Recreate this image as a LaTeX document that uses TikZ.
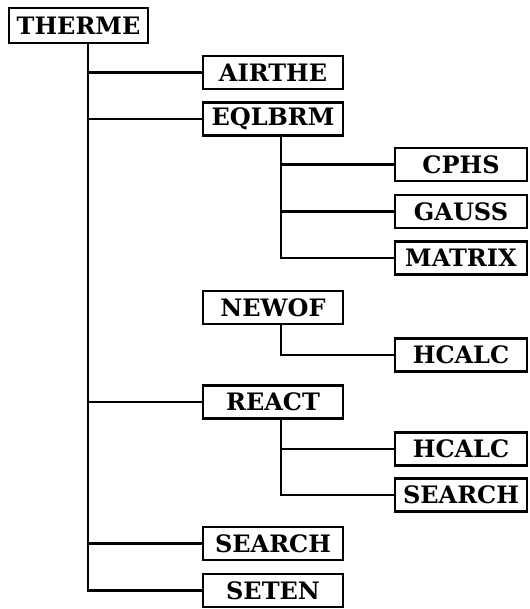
\documentclass[tikz,border=0pt]{standalone}
\usepackage{fontspec}
\setmainfont{DejaVu Serif}
\begin{document}
\begin{tikzpicture}[x=1pt,y=-1pt,
  box/.style={draw, line width=2.2pt, minimum height=33pt, inner sep=0pt,
    font=\fontsize{24}{24}\selectfont\bfseries},
  midbox/.style={box, minimum width=140pt},
  rbox/.style={box, minimum width=132pt},
  link/.style={line width=2.5pt}]
\useasboundingbox (0,0) rectangle (529,609);
\node[box, minimum width=139pt, minimum height=35pt] (therme) at (78.5,25.5) {THERME};
\node[midbox] (airthe) at (273,72.5) {AIRTHE};
\node[midbox] (eqlbrm) at (273,119) {EQLBRM};
\node[rbox] (cphs) at (461,164.5) {CPHS};
\node[rbox] (gauss) at (461,211.5) {GAUSS};
\node[rbox] (nmatrix) at (461,258) {MATRIX};
\node[midbox] (newof) at (273,307.5) {NEWOF};
\node[rbox] (hcalcA) at (461,355) {HCALC};
\node[midbox] (react) at (273,402) {REACT};
\node[rbox] (hcalcB) at (461,449) {HCALC};
\node[rbox] (searchB) at (461,495) {SEARCH};
\node[midbox] (search) at (273,543.5) {SEARCH};
\node[midbox] (seten) at (273,590.5) {SETEN};
\coordinate (t) at (88,0);
\coordinate (s) at (281,0);
% main trunk
\draw[link] (therme.south -| t) |- (seten.west);
\draw[link] (t |- airthe.west) -- (airthe.west);
\draw[link] (t |- eqlbrm.west) -- (eqlbrm.west);
\draw[link] (t |- react.west) -- (react.west);
\draw[link] (t |- search.west) -- (search.west);
% EQLBRM children
\draw[link] (eqlbrm.south -| s) |- (nmatrix.west);
\draw[link] (s |- cphs.west) -- (cphs.west);
\draw[link] (s |- gauss.west) -- (gauss.west);
% NEWOF child
\draw[link] (newof.south -| s) |- (hcalcA.west);
% REACT children
\draw[link] (react.south -| s) |- (searchB.west);
\draw[link] (s |- hcalcB.west) -- (hcalcB.west);
\end{tikzpicture}
\end{document}
